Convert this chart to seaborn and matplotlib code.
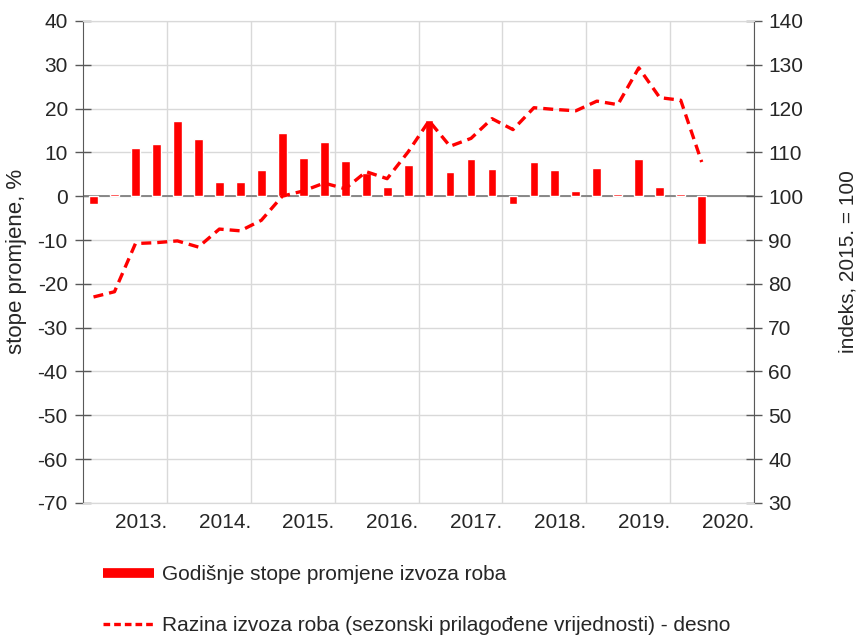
import matplotlib
matplotlib.use("Agg")
import matplotlib.pyplot as plt
from matplotlib.lines import Line2D
import seaborn as sns
import pandas as pd
import numpy as np

# podaci: kvartali 2013.Q1 - 2020.Q2
quarters = [f"{y}Q{q}" for y in range(2013, 2021) for q in range(1, 5)][:30]
years = ["2013.", "2014.", "2015.", "2016.", "2017.", "2018.", "2019.", "2020."]

annual_change = [-1.7, 0.6, 10.9, 11.9, 17.1, 13.0, 3.3, 3.3, 5.9, 14.4,
                 8.7, 12.3, 8.0, 5.2, 2.0, 7.1, 17.3, 5.6, 8.4, 6.3,
                 -1.7, 7.7, 5.9, 1.3, 6.5, 0.4, 8.4, 2.2, 0.4, -10.9]

export_index = [77.0, 78.2, 89.2, 89.4, 89.8, 88.4, 92.5, 92.1, 94.5, 100.0,
                101.2, 103.0, 101.7, 105.6, 104.0, 110.1, 117.2, 111.4, 113.2, 117.7,
                115.2, 120.2, 119.8, 119.5, 121.7, 120.9, 129.3, 122.5, 121.9, 107.8]

label_bar = "Godišnje stope promjene izvoza roba"
label_line = "Razina izvoza roba (sezonski prilagođene vrijednosti) - desno"

sns.set_style("white")
plt.rcParams['font.family'] = ['Liberation Sans', 'DejaVu Sans']
plt.rcParams['axes.unicode_minus'] = False

df = pd.DataFrame({"kvartal": quarters, "stopa": annual_change, "indeks": export_index})

fig, ax = plt.subplots(figsize=(8.56, 6.35), dpi=100)
fig.subplots_adjust(left=0.097, right=0.881, top=0.967, bottom=0.208)

sns.barplot(data=df, x="kvartal", y="stopa", color="#ff0000", saturation=1,
            width=0.42, errorbar=None, ax=ax, zorder=2)

ax2 = ax.twinx()
sns.lineplot(x=np.arange(len(df)), y=df["indeks"], ax=ax2, color="#ff0000", lw=2.4)
ax2.lines[0].set_dashes((3, 1.8))

ax.set_xlim(-0.5, 31.5)
ax.set_ylim(-70, 40)
ax.set_yticks(range(-70, 41, 10))
ax2.set_ylim(30, 140)
ax2.set_yticks(range(30, 141, 10))

ax.set_xticks(np.arange(3.5, 32, 4))
ax.set_xticklabels(years, ha="right")
ax.tick_params(axis="x", length=0, labelsize=15, pad=7)

ax.set_axisbelow(True)
ax.grid(True, color="#d9d9d9", lw=1)
ax.axhline(0, color="#808080", lw=1.3, zorder=1)

for a in (ax, ax2):
    for s in ("top", "bottom"):
        a.spines[s].set_color("#d9d9d9")
ax.spines["left"].set_color("#595959")
ax.spines["right"].set_visible(False)
ax2.spines["left"].set_visible(False)
ax2.spines["right"].set_color("#595959")

ax.tick_params(axis="y", direction="inout", length=12, width=1, color="#595959",
               labelsize=15, pad=5)
ax2.tick_params(axis="y", direction="inout", length=12, width=1, color="#595959",
                labelsize=15, pad=4)

ax.set_xlabel("")
ax.set_ylabel("stope promjene, %", fontsize=16)
ax.yaxis.set_label_coords(-0.083, 0.5)
ax2.set_ylabel("indeks, 2015. = 100", fontsize=15)
ax2.yaxis.set_label_coords(1.125, 0.5)

handles = [Line2D([], [], color="#ff0000", lw=7, solid_capstyle="butt"),
           Line2D([], [], color="#ff0000", lw=2.4, dashes=(2, 1.2))]
fig.legend(handles, [label_bar, label_line], loc="upper left",
           bbox_to_anchor=(0.1203, 0.110), frameon=False, fontsize=15,
           handlelength=2.45, handletextpad=0.38, labelspacing=1.54,
           borderpad=0, borderaxespad=0)

plt.savefig("out.png", dpi=100)
plt.close()
